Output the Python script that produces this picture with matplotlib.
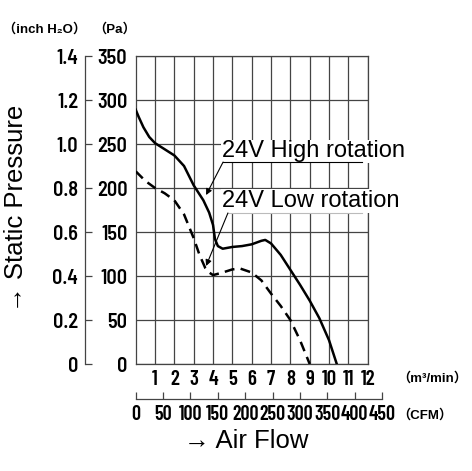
import matplotlib
matplotlib.use("Agg")
import matplotlib.pyplot as plt

# air flow (m3/min) vs static pressure (Pa)
high_flow = [0.0, 0.15, 0.4, 0.7, 1.0, 1.5, 2.0, 2.5, 3.0, 3.5, 3.8, 4.0, 4.1, 4.25,
             4.5, 5.0, 5.5, 6.0, 6.5, 6.7, 7.0, 7.5, 8.0, 8.5, 9.0, 9.5, 10.0, 10.4]
high_pa = [289, 281, 269, 258, 251, 244, 237, 225, 203, 186, 172, 158, 142, 134,
           131, 133, 134, 136, 140, 141, 137, 124, 107, 90, 72, 52, 27, 0]

low_flow = [0.0, 0.5, 1.0, 1.5, 2.0, 2.5, 3.0, 3.3, 3.6, 3.8, 4.0, 4.5, 5.0, 5.4,
            6.0, 6.5, 7.0, 7.5, 8.0, 8.5, 9.0]
low_pa = [219, 208, 200, 194, 186, 170, 143, 124, 109, 104, 101, 104, 107.5, 108.5,
          104, 95, 80, 66, 50, 27, 0]

pa_ticks = [0, 50, 100, 150, 200, 250, 300, 350]
inch_ticks = [0, 0.2, 0.4, 0.6, 0.8, 1.0, 1.2, 1.4]
inch_labels = ["0", "0.2", "0.4", "0.6", "0.8", "1.0", "1.2", "1.4"]
flow_ticks = list(range(1, 13))
cfm_ticks = list(range(0, 451, 50))

NARROW = ["Barlow Semi Condensed", "DejaVu Sans"]
NARROWER = ["Barlow Condensed", "Barlow Semi Condensed", "DejaVu Sans"]
SANS = ["Liberation Sans", "DejaVu Sans"]
UNIT = ["Liberation Sans", "Noto Sans CJK JP", "DejaVu Sans"]
GRID = "#444444"

W, H = 472, 471
fig = plt.figure(figsize=(W / 100, H / 100), dpi=100)

def px(x, y):  # pixel position -> figure fraction
    return x / W, 1 - y / H

def narrow(labels, family=NARROW, size=14.5):
    for lab in labels:
        lab.set_family(family)
        lab.set_weight(600)
        lab.set_fontsize(size)

left, top, right, bottom = 135.7, 56, 367.7, 364
ax = fig.add_axes([left / W, 1 - bottom / H, (right - left) / W, (bottom - top) / H])
ax.set_xlim(0, 12)
ax.set_ylim(0, 350)
ax.set_xticks(flow_ticks)
ax.set_yticks(pa_ticks)
ax.grid(True, color=GRID, lw=0.9)
ax.set_axisbelow(True)
for s in ax.spines.values():
    s.set_color(GRID)
    s.set_linewidth(0.9)
ax.tick_params(length=0)
ax.tick_params(axis="y", pad=6)
ax.tick_params(axis="x", pad=4)
narrow(ax.get_yticklabels())
narrow(ax.get_xticklabels(), NARROWER, 15)

ax.plot(high_flow, high_pa, color="black", lw=1.8, zorder=3)
ax.plot(low_flow, low_pa, color="black", lw=1.8, ls=(0, (4, 2.5)), zorder=3)

# inch H2O axis on the far left
sec = ax.secondary_yaxis(-0.218, functions=(lambda p: p / 250, lambda v: v * 250))
sec.set_yticks(inch_ticks, labels=inch_labels)
sec.tick_params(direction="in", length=5, width=0.9, color=GRID, pad=5)
sec.spines["left"].set_color(GRID)
sec.spines["left"].set_linewidth(0.9)
narrow(sec.get_yticklabels())

# CFM axis below
cfm_w = (right - left) * (450 / 35.3147) / 12
ax2 = fig.add_axes([left / W, 1 - 399 / H, cfm_w / W, 0.0001])
ax2.set_xlim(0, 450)
ax2.set_xticks(cfm_ticks)
ax2.set_yticks([])
for k in ["left", "right", "top"]:
    ax2.spines[k].set_visible(False)
ax2.spines["bottom"].set_color(GRID)
ax2.spines["bottom"].set_linewidth(0.9)
ax2.patch.set_visible(False)
ax2.tick_params(axis="x", direction="in", length=5, width=0.9, color=GRID, pad=4)
narrow(ax2.get_xticklabels(), NARROWER, 14.5)

# curve labels
box = dict(fc="white", ec="none", pad=0.5)
ax.text(4.45, 234.9, "24V High rotation", family=SANS, fontsize=17,
        ha="left", va="baseline", bbox=box, zorder=4, clip_on=False)
ax.text(4.45, 178.4, "24V Low rotation", family=SANS, fontsize=17,
        ha="left", va="baseline", bbox=box, zorder=4, clip_on=False)
ax.plot([4.52, 11.7], [229.5, 229.5], color="black", lw=0.8, zorder=5)
ax.plot([4.77, 11.7], [171.6, 171.6], color="#bbbbbb", lw=0.8, zorder=5)
arrow = dict(arrowstyle="-|>", lw=0.8, color="black", mutation_scale=9,
             shrinkA=0, shrinkB=0)
ax.annotate("", xy=(3.64, 192), xytext=(4.52, 229.5), arrowprops=arrow, zorder=5)
ax.annotate("", xy=(3.64, 111.4), xytext=(4.77, 171.6), arrowprops=arrow, zorder=5)

# axis titles and units
fig.text(*px(45, 29), "（inch H₂O）", family=UNIT, fontsize=9.5, weight="bold",
         ha="center", va="center")
fig.text(*px(115, 29), "（Pa）", family=UNIT, fontsize=9.5, weight="bold",
         ha="center", va="center")
fig.text(*px(432, 378), "（m³/min）", family=UNIT, fontsize=9.5, weight="bold",
         ha="center", va="center")
fig.text(*px(425, 415), "（CFM）", family=UNIT, fontsize=9.5, weight="bold",
         ha="center", va="center")
fig.text(*px(246, 441), "→ Air Flow", family=SANS, fontsize=18.5, ha="center", va="center")
fig.text(*px(16, 208), "→ Static Pressure", family=SANS, fontsize=18.5, rotation=90,
         ha="center", va="center")

fig.savefig("out.png", dpi=100)
